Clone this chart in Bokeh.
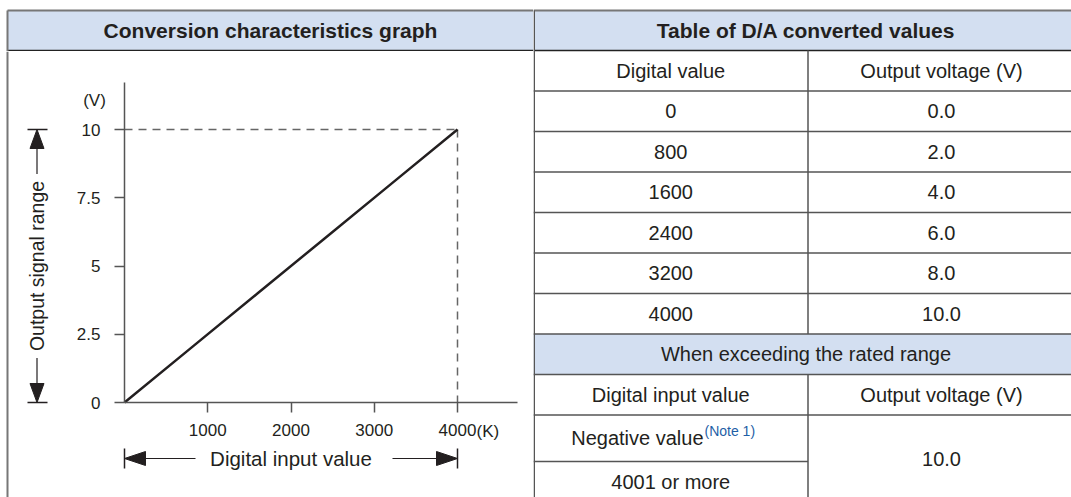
import numpy as np
from bokeh.plotting import figure
from bokeh.models import Range1d, LinearAxis, FixedTicker, NumeralTickFormatter
from bokeh.layouts import row, column
from bokeh.core.properties import value
from bokeh.embed import file_html
from bokeh.resources import INLINE

# ---------------- data ----------------
digital_values = [0, 800, 1600, 2400, 3200, 4000]
output_voltage = [0.0, 2.0, 4.0, 6.0, 8.0, 10.0]
y_ticks = [0, 2.5, 5, 7.5, 10]
x_ticks = [1000, 2000, 3000, 4000]
exceed_inputs = ["Negative value", "4001 or more"]
exceed_output = 10.0
note_text = "(Note 1)"
titles = ["Conversion characteristics graph", "Table of D/A converted values"]
col_headers = ["Digital value", "Output voltage (V)"]
exceed_title = "When exceeding the rated range"
exceed_headers = ["Digital input value", "Output voltage (V)"]
y_unit = "(V)"
x_unit = "(K)"
y_title = "Output signal range"
x_title = "Digital input value"

# ---------------- style / layout constants ----------------
FONT = value("Liberation Sans")
INK = "#231f20"
HEAD_FILL = "#d3dff1"
RULE = "#555555"
FRAME = "#777777"
NOTE_BLUE = "#1f5fa6"
TXT = "20px"
HEAD_TXT = "21px"
TICK_TXT = "17px"

LEFT_W = 533
TABLE_W = 538
TOTAL_H = 497
HEAD_H = 51
BODY_H = TOTAL_H - HEAD_H
HEAD_TOP = 10
HEAD_BOT = 50
LEFT_EDGE = 7

ORIGIN_X = 124   # px from chart left edge
ORIGIN_Y = 351   # px from chart top edge
AXIS_LEN_X = 333  # px for full digital range
AXIS_LEN_Y = 273  # px for full voltage range

xmax = digital_values[-1]
ymax = output_voltage[-1]
kx = AXIS_LEN_X / xmax
ky = AXIS_LEN_Y / ymax


def dx(px):
    return px / kx


def dy(px):
    return px / ky


def blank(fig):
    fig.grid.visible = False
    fig.background_fill_color = "white"
    fig.border_fill_color = "white"
    return fig


# ---------------- left header ----------------
lh = figure(width=LEFT_W, height=HEAD_H, x_range=Range1d(0, LEFT_W), y_range=Range1d(HEAD_H, 0),
            output_backend="svg", toolbar_location=None, x_axis_location=None, y_axis_location=None,
            min_border=0, outline_line_color=None)
blank(lh)
lh.quad(left=[LEFT_EDGE], right=[LEFT_W], top=[HEAD_TOP], bottom=[HEAD_BOT], fill_color=HEAD_FILL, line_color=None)
lh.segment(x0=[LEFT_EDGE], y0=[HEAD_TOP], x1=[LEFT_W], y1=[HEAD_TOP], line_color=FRAME, line_width=2)
lh.segment(x0=[LEFT_EDGE], y0=[HEAD_BOT], x1=[LEFT_W], y1=[HEAD_BOT], line_color="#222222", line_width=1.5)
lh.segment(x0=[LEFT_EDGE], y0=[HEAD_TOP], x1=[LEFT_EDGE], y1=[HEAD_H], line_color=FRAME, line_width=2)
lh.text(x=[270], y=[(HEAD_TOP + HEAD_BOT) / 2], text=[titles[0]], text_font=FONT, text_font_size=HEAD_TXT,
        text_font_style="bold", text_color=INK, text_align="center", text_baseline="middle")

# ---------------- chart ----------------
xs = -ORIGIN_X / kx
xe = (LEFT_W - ORIGIN_X) / kx
ys = -(BODY_H - ORIGIN_Y) / ky
ye = ORIGIN_Y / ky

ch = figure(width=LEFT_W, height=BODY_H, x_range=Range1d(xs, xe), y_range=Range1d(ys, ye),
            output_backend="svg", toolbar_location=None, x_axis_location=None, y_axis_location=None,
            min_border=0, outline_line_color=None)
blank(ch)

# left frame border
bx = xs + dx(LEFT_EDGE)
ch.segment(x0=[bx], y0=[ys], x1=[bx], y1=[ye], line_color=FRAME, line_width=2)

# reference dashed lines
ch.line([0, xmax], [ymax, ymax], line_color="#666666", line_width=1.5, line_dash="8 6")
ch.line([xmax, xmax], [ymax, 0], line_color="#666666", line_width=1.5, line_dash="8 6")

# conversion line
ch.line(digital_values, output_voltage, line_color=INK, line_width=2.5)


def style_axis(ax):
    ax.axis_line_color = RULE
    ax.axis_line_width = 1.5
    ax.major_tick_line_color = RULE
    ax.major_tick_line_width = 1.5
    ax.major_tick_in = 0
    ax.major_tick_out = 10
    ax.minor_tick_in = 0
    ax.minor_tick_out = 0
    ax.major_label_text_font = "Liberation Sans"
    ax.major_label_text_font_size = TICK_TXT
    ax.major_label_text_color = INK


yax = LinearAxis(fixed_location=0, ticker=FixedTicker(ticks=y_ticks),
                 formatter=NumeralTickFormatter(format="0.[0]"), bounds=(0, dy(320)))
style_axis(yax)
yax.major_label_standoff = 14
ch.add_layout(yax, "left")

xax = LinearAxis(fixed_location=0, ticker=FixedTicker(ticks=x_ticks),
                 formatter=NumeralTickFormatter(format="0"), bounds=(0, dx(393)))
style_axis(xax)
xax.major_label_standoff = 11
ch.add_layout(xax, "below")

# unit labels
ch.text(x=[0], y=[ymax], text=[y_unit], x_offset=-30, y_offset=-29, text_font=FONT, text_font_size=TICK_TXT,
        text_color=INK, text_align="center", text_baseline="middle")
ch.text(x=[xmax], y=[0], text=[x_unit], x_offset=19, y_offset=29, text_font=FONT, text_font_size=TICK_TXT,
        text_color=INK, text_align="left", text_baseline="middle")

# y-axis title with range arrows
ax_x = dx(-87.5)
ymid = ymax / 2
ch.segment(x0=[dx(-97), dx(-97)], y0=[ymax, 0], x1=[dx(-77), dx(-77)], y1=[ymax, 0], line_color=INK, line_width=1.5)
ch.patches(xs=[[ax_x, ax_x - dx(7), ax_x + dx(7)], [ax_x, ax_x - dx(7), ax_x + dx(7)]],
           ys=[[ymax, ymax - dy(19), ymax - dy(19)], [0, dy(19), dy(19)]], fill_color=INK, line_color=INK)
ch.segment(x0=[ax_x, ax_x], y0=[ymax - dy(19), dy(19)], x1=[ax_x, ax_x], y1=[ymid + dy(92), ymid - dy(92)],
           line_color=INK, line_width=1.2)
ch.text(x=[ax_x], y=[ymid], text=[y_title], angle=np.pi / 2, text_font=FONT, text_font_size="19.5px",
        text_color=INK, text_align="center", text_baseline="middle")

# x-axis title with range arrows
ay = -dy(56)
xmid = xmax / 2
ch.segment(x0=[0, xmax], y0=[-dy(46), -dy(46)], x1=[0, xmax], y1=[-dy(66), -dy(66)], line_color=INK, line_width=1.5)
ch.patches(xs=[[0, dx(21), dx(21)], [xmax, xmax - dx(21), xmax - dx(21)]],
           ys=[[ay, ay + dy(7), ay - dy(7)], [ay, ay + dy(7), ay - dy(7)]], fill_color=INK, line_color=INK)
ch.segment(x0=[dx(21), xmax - dx(21)], y0=[ay, ay], x1=[dx(71), xmax - dx(65)], y1=[ay, ay],
           line_color=INK, line_width=1.2)
ch.text(x=[xmid], y=[ay], text=[x_title], text_font=FONT, text_font_size="20.5px",
        text_color=INK, text_align="center", text_baseline="middle")

# ---------------- table ----------------
tf = figure(width=TABLE_W, height=TOTAL_H, x_range=Range1d(0, TABLE_W), y_range=Range1d(TOTAL_H, 0),
            output_backend="svg", toolbar_location=None, x_axis_location=None, y_axis_location=None,
            min_border=0, outline_line_color=None)
blank(tf)

ROW_H = 40.5
NOTE_ROW_H = 46.5
bounds = [HEAD_BOT + ROW_H * i for i in range(10)]
bounds.append(bounds[-1] + NOTE_ROW_H)
bounds.append(bounds[-1] + ROW_H)
mids = [(bounds[i] + bounds[i + 1]) / 2 for i in range(len(bounds) - 1)]
COL_DIV = 274.5
C1 = COL_DIV / 2
C2 = 408
CFULL = 272.5

# fills
tf.quad(left=[0, 0], right=[TABLE_W, TABLE_W], top=[HEAD_TOP, bounds[7]], bottom=[HEAD_BOT, bounds[8]],
        fill_color=HEAD_FILL, line_color=None)
# frame lines
tf.segment(x0=[0], y0=[HEAD_TOP], x1=[TABLE_W], y1=[HEAD_TOP], line_color=FRAME, line_width=2)
tf.segment(x0=[0], y0=[HEAD_BOT], x1=[TABLE_W], y1=[HEAD_BOT], line_color="#222222", line_width=1.5)
tf.segment(x0=[0.75], y0=[HEAD_TOP], x1=[0.75], y1=[TOTAL_H], line_color=RULE, line_width=1.5)
full_rows = bounds[1:10]
tf.segment(x0=[0] * len(full_rows), y0=full_rows, x1=[TABLE_W] * len(full_rows), y1=full_rows,
           line_color=RULE, line_width=1.5)
tf.segment(x0=[0], y0=[bounds[10]], x1=[COL_DIV], y1=[bounds[10]], line_color=RULE, line_width=1.5)
tf.segment(x0=[COL_DIV, COL_DIV], y0=[HEAD_BOT, bounds[8]], x1=[COL_DIV, COL_DIV], y1=[bounds[7], TOTAL_H],
           line_color=RULE, line_width=1.5)

tkw = dict(text_font=FONT, text_font_size=TXT, text_color=INK, text_align="center", text_baseline="middle")
tf.text(x=[CFULL], y=[(HEAD_TOP + HEAD_BOT) / 2], text=[titles[1]], text_font=FONT, text_font_size=HEAD_TXT,
        text_font_style="bold", text_color=INK, text_align="center", text_baseline="middle")
tf.text(x=[C1, C2], y=[mids[0], mids[0]], text=col_headers, **tkw)
tf.text(x=[C1] * len(digital_values), y=mids[1:7], text=[str(v) for v in digital_values], **tkw)
tf.text(x=[C2] * len(output_voltage), y=mids[1:7], text=[f"{v:.1f}" for v in output_voltage], **tkw)
tf.text(x=[CFULL], y=[mids[7]], text=[exceed_title], **tkw)
tf.text(x=[C1, C2], y=[mids[8], mids[8]], text=exceed_headers, **tkw)
split = 170
tf.text(x=[split], y=[mids[9]], text=[exceed_inputs[0]], text_font=FONT, text_font_size=TXT, text_color=INK,
        text_align="right", text_baseline="middle")
tf.text(x=[split + 1], y=[mids[9] - 7], text=[note_text], text_font=FONT, text_font_size="14px",
        text_color=NOTE_BLUE, text_align="left", text_baseline="middle")
tf.text(x=[C1], y=[mids[10]], text=[exceed_inputs[1]], **tkw)
tf.text(x=[C2], y=[(bounds[9] + bounds[11]) / 2], text=[f"{exceed_output:.1f}"], **tkw)

layout = row(column(lh, ch), tf)
open("out.html", "w").write(file_html(layout, INLINE))
